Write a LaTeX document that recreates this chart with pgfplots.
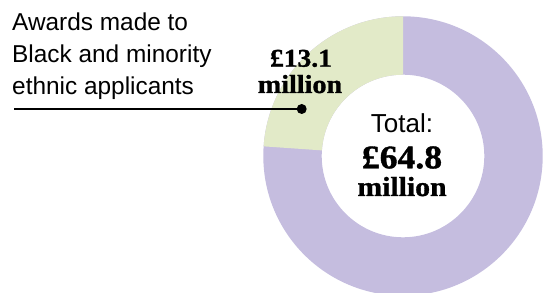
\documentclass[border=0pt]{standalone}
\usepackage{fontspec}
\usepackage{pgfplots}
\usepackage{pgfplotstable}
\pgfplotsset{compat=1.18}
\setmainfont{Liberation Sans}
\newfontfamily\disp[FakeStretch=1.08, BoldFeatures={FakeBold=1.2}]{Liberation Serif}
\definecolor{bame}{HTML}{E2EAC8}
\definecolor{rest}{HTML}{C5BDDF}

% shares of the ring as drawn (percent of the circle), and the amounts in the labels
\pgfplotstableread{
group share amount
bame  23.9  13.1
total 100.0 64.8
}\donutdata

\begin{document}
\begin{tikzpicture}
\pgfplotstablegetelem{0}{share}\of\donutdata
\pgfmathsetmacro{\angB}{90+3.6*\pgfplotsretval}
\begin{axis}[name=ax, scale only axis, width=549bp, height=293bp,
  xmin=0, xmax=549, ymin=0, ymax=293, hide axis, clip=true]
  % purple full ring
  \fill[rest, even odd rule] (axis cs:403,137) circle[radius=139.7bp]
                             (axis cs:403,137) circle[radius=81.3bp];
  % green sector
  \fill[bame] (axis cs:403,137) ++(90:139.7bp)
     arc[start angle=90, end angle=\angB, radius=139.7bp]
     -- ++(\angB+180:58.4bp)
     arc[start angle=\angB, end angle=90, radius=81.3bp] -- cycle;
  % left label
  \node[anchor=base west, inner sep=0pt, font=\fontsize{24.4bp}{30bp}\selectfont] at (axis cs:12,262) {Awards made to};
  \node[anchor=base west, inner sep=0pt, font=\fontsize{24.4bp}{30bp}\selectfont] at (axis cs:12,230.3) {Black and minority};
  \node[anchor=base west, inner sep=0pt, font=\fontsize{24.4bp}{30bp}\selectfont] at (axis cs:12,198.7) {ethnic applicants};
  % leader
  \draw[black, line width=1.1bp] (axis cs:14,184) -- (axis cs:301.7,184);
  \fill[black] (axis cs:301.7,184) circle[radius=5bp];
  % slice value
  \node[anchor=base, inner sep=0pt, font=\disp\bfseries\fontsize{25.5bp}{28bp}\selectfont] at (axis cs:301,226.3) {£13.1};
  \node[anchor=base, inner sep=0pt, font=\disp\bfseries\fontsize{26bp}{28bp}\selectfont] at (axis cs:300,200) {million};
  % centre
  \node[anchor=base, inner sep=0pt, font=\fontsize{26bp}{30bp}\selectfont] at (axis cs:402,160.7) {Total:};
  \node[anchor=base, inner sep=0pt, font=\disp\bfseries\fontsize{33bp}{36bp}\selectfont] at (axis cs:402,124.7) {£64.8};
  \node[anchor=base, inner sep=0pt, font=\disp\bfseries\fontsize{27.5bp}{30bp}\selectfont] at (axis cs:402,97) {million};
\end{axis}
\pgfresetboundingbox
\useasboundingbox (ax.south west) rectangle (ax.north east);
\end{tikzpicture}
\end{document}
